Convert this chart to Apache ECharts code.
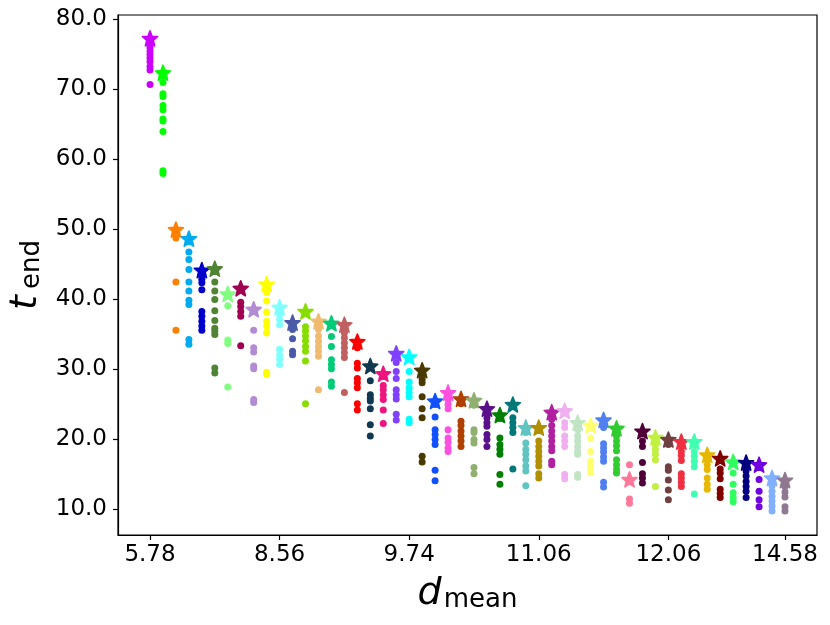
<!DOCTYPE html>
<html>
<head>
<meta charset="utf-8">
<script src="https://cdn.jsdelivr.net/npm/echarts@6/dist/echarts.min.js"></script>
<style>
html, body { margin: 0; padding: 0; background: #fff; }
#chart { width: 830px; height: 625px; }
</style>
</head>
<body>
<div id="chart"></div>
<script>
// x positions are column indices; only some of them carry a d_mean label
var tickIdx = [0, 10, 20, 30, 40, 49];
var tickLabels = ['5.78', '8.56', '9.74', '11.06', '12.06', '14.58'];
var yTicks = [10, 20, 30, 40, 50, 60, 70, 80];

// star marker value of each column
var starVals = [
	77.3, 72.4, 50.0, 48.7, 44.2, 44.4, 40.8, 41.6, 38.6, 42.2,
	38.9, 36.7, 38.3, 36.9, 36.6, 36.4, 34.0, 30.5, 29.4, 32.3,
	31.8, 29.9, 25.5, 26.7, 25.8, 25.6, 24.4, 23.5, 25.0, 21.7,
	21.7, 23.9, 24.1, 22.4, 22.0, 22.8, 21.6, 14.3, 21.2, 20.3,
	20.0, 19.7, 19.7, 17.8, 17.3, 16.8, 16.7, 16.4, 14.5, 14.2
];

// the other runs of each column (dots)
var dotVals = [
	[76.6, 76.0, 75.5, 75.0, 74.5, 74.0, 73.3, 72.8, 70.7],
	[71.0, 69.4, 69.0, 67.7, 67.1, 65.8, 65.5, 64.0, 58.4, 58.0],
	[48.8, 42.5, 35.6],
	[46.8, 45.7, 44.3, 42.5, 41.2, 39.9, 39.3, 34.3, 33.6],
	[43.6, 42.9, 42.4, 41.4, 38.3, 37.6, 36.9, 36.2, 35.6],
	[42.5, 41.2, 40.0, 38.4, 37.0, 35.9, 35.5, 35.0, 30.2, 29.5],
	[39.1, 34.2, 33.7, 27.5],
	[39.6, 39.0, 38.3, 37.6, 33.4],
	[35.6, 33.1, 32.5, 30.5, 30.1, 25.7, 25.3],
	[41.0, 39.8, 38.2, 36.9, 36.2, 35.2, 29.6, 29.3],
	[37.9, 37.1, 36.4, 32.9, 32.1, 31.5, 30.7],
	[35.7, 34.4, 32.6, 32.1],
	[36.1, 35.5, 34.8, 34.1, 33.3, 32.6, 31.2, 25.1],
	[35.7, 34.8, 34.0, 33.3, 32.6, 31.9, 27.1],
	[34.7, 33.3, 31.4, 30.7, 30.1, 28.2, 27.6],
	[35.2, 34.5, 33.8, 33.1, 32.4, 31.7, 26.7],
	[33.1, 30.9, 30.2, 28.7, 28.1, 27.4, 25.1, 24.2],
	[28.4, 26.4, 25.9, 25.5, 24.4, 22.1, 20.5],
	[27.7, 27.1, 26.4, 25.7, 24.2, 22.3],
	[31.0, 29.7, 28.7, 27.1, 26.4, 25.8, 23.6, 22.8],
	[29.7, 28.2, 27.4, 26.7, 26.1, 22.9, 22.4],
	[28.6, 28.1, 26.1, 24.4, 23.1, 17.6, 16.8],
	[25.0, 23.2, 21.4, 20.7, 20.0, 19.3, 15.6, 14.1],
	[25.7, 25.0, 24.4, 21.4, 20.2, 19.6, 18.8, 18.3],
	[25.1, 22.6, 22.0, 21.2, 20.5, 19.8, 19.0],
	[24.9, 21.4, 21.0, 20.0, 19.5, 16.0, 15.1],
	[23.8, 23.1, 22.4, 21.9, 20.7, 20.0, 19.0],
	[23.0, 20.2, 19.3, 18.6, 17.9, 15.0, 13.6],
	[23.1, 22.4, 21.7, 21.0, 15.8],
	[21.0, 19.5, 18.6, 17.9, 17.1, 16.2, 15.5, 13.4],
	[19.8, 19.0, 18.3, 17.6, 16.9, 16.2, 15.1, 14.5],
	[22.9, 22.0, 21.2, 20.5, 19.8, 19.0, 18.4, 16.9, 16.4],
	[22.4, 21.7, 20.5, 19.8, 19.0, 15.0, 14.4],
	[21.4, 20.5, 19.8, 19.0, 18.3, 17.9, 15.0, 14.6],
	[20.2, 18.3, 16.9, 16.4, 15.9, 15.3],
	[21.7, 19.4, 18.8, 18.2, 17.5, 16.9, 13.9, 13.2],
	[20.5, 19.8, 19.1, 18.4, 17.1, 16.4, 15.7, 15.2],
	[16.4, 11.5, 10.9],
	[19.8, 19.0, 16.7, 15.1, 14.5, 13.8],
	[19.3, 18.6, 17.9, 17.1, 13.3],
	[19.3, 16.1, 15.6, 14.2, 12.8, 11.4],
	[19.0, 18.3, 17.7, 17.0, 15.1, 14.5, 13.9, 13.3],
	[18.3, 17.6, 16.9, 16.1, 12.2],
	[17.1, 16.4, 15.7, 14.5, 13.6, 12.9],
	[15.8, 15.2, 14.4, 12.9, 12.3, 11.7],
	[15.2, 13.6, 12.4, 11.7, 11.1],
	[16.1, 15.5, 14.8, 14.0, 13.3, 12.6, 11.7],
	[14.3, 12.6, 11.4, 10.4],
	[13.4, 12.6, 11.9, 11.2, 10.5, 9.8],
	[13.3, 12.5, 11.8, 10.4, 9.8]
];

var colors = [
	'#cc00ff', '#00ff00', '#ff8000', '#00aaee', '#0000cc', '#508434', '#80ff80', '#a00050', '#b38bd3', '#ffff00',
	'#80ffff', '#4a5aa8', '#88dd00', '#eebb70', '#00cc77', '#c06060', '#ff0000', '#103850', '#f0147f', '#8040ff',
	'#00ffff', '#4a3a00', '#1050ff', '#ff50e0', '#b04000', '#90b070', '#5a108a', '#008000', '#007878', '#60c4c0',
	'#b09000', '#b020a0', '#f0b0f0', '#c0e4c4', '#ffff70', '#5080f0', '#30cc30', '#ff7899', '#500038', '#c0f040',
	'#704040', '#f03040', '#40ffb0', '#e8b800', '#800000', '#30ff60', '#000080', '#7000e0', '#80b0ff', '#907890'
];

// five-pointed star, a bit plumper than a plain one, like matplotlib's '*'
function starPath() {
	var pts = [];
	for (var k = 0; k < 10; k++) {
		var a = (-90 + 36 * k) * Math.PI / 180;
		var r = k % 2 === 0 ? 50 : 22;
		pts.push((50 + r * Math.cos(a)).toFixed(2) + ' ' + (50 + r * Math.sin(a)).toFixed(2));
	}
	return 'path://M' + pts.join(' L') + ' Z';
}

var dotData = [];
for (var i = 0; i < dotVals.length; i++) {
	for (var j = 0; j < dotVals[i].length; j++) {
		dotData.push({ value: [i, dotVals[i][j]], itemStyle: { color: colors[i] } });
	}
}
var starData = [];
for (var i = 0; i < starVals.length; i++) {
	starData.push({ value: [i, starVals[i]], itemStyle: { color: colors[i], borderColor: colors[i] } });
}

var font = 'DejaVu Sans';
var myChart = echarts.init(document.getElementById('chart'));
var option = {
	animation: false,
	backgroundColor: '#fff',
	grid: {
		left: 118, right: 13, top: 15, bottom: 90,
		outerBoundsMode: 'none',
		containLabel: false,
		show: true, borderColor: '#000', borderWidth: 1.2, backgroundColor: 'transparent'
	},
	xAxis: {
		type: 'value',
		min: -2.47,
		max: 51.47,
		name: '{d|d}{s|mean}',
		nameLocation: 'middle',
		nameGap: 38,
		nameTextStyle: {
			rich: {
				d: { fontFamily: font, fontSize: 38, fontStyle: 'italic', color: '#000', verticalAlign: 'bottom', lineHeight: 40 },
				s: { fontFamily: font, fontSize: 26, color: '#000', verticalAlign: 'bottom', lineHeight: 28, padding: [0, 0, 0, 2] }
			}
		},
		axisLine: { show: true, onZero: false, lineStyle: { color: '#000', width: 1.2 } },
		axisTick: { show: true, length: 5, customValues: tickIdx, lineStyle: { color: '#000', width: 1.2 } },
		axisLabel: {
			customValues: tickIdx,
			margin: 9,
			fontFamily: font, fontSize: 23, color: '#000',
			formatter: function (v) { return tickLabels[tickIdx.indexOf(Math.round(v))]; }
		},
		splitLine: { show: false }
	},
	yAxis: {
		type: 'value',
		min: 6.357,
		max: 80.643,
		name: '{t|t}{s|end}',
		nameLocation: 'middle',
		nameGap: 64,
		nameTextStyle: {
			rich: {
				t: { fontFamily: font, fontSize: 38, fontStyle: 'italic', color: '#000', verticalAlign: 'bottom', lineHeight: 40 },
				s: { fontFamily: font, fontSize: 26, color: '#000', verticalAlign: 'bottom', lineHeight: 28, padding: [0, 0, 0, 6] }
			}
		},
		axisLine: { show: true, onZero: false, lineStyle: { color: '#000', width: 1.2 } },
		axisTick: { show: true, length: 5, customValues: yTicks, lineStyle: { color: '#000', width: 1.2 } },
		axisLabel: {
			customValues: yTicks,
			margin: 11,
			fontFamily: font, fontSize: 23, color: '#000',
			formatter: function (v) { return v.toFixed(1); }
		},
		splitLine: { show: false }
	},
	series: [
		{
			type: 'scatter',
			data: dotData,
			symbol: 'circle',
			symbolSize: 7,
			itemStyle: { opacity: 1 }
		},
		{
			type: 'scatter',
			data: starData,
			symbol: starPath(),
			symbolSize: 15,
			z: 3,
			itemStyle: { opacity: 1, borderWidth: 1.6, borderJoin: 'round' }
		}
	]
};
myChart.setOption(option);
</script>
</body>
</html>
